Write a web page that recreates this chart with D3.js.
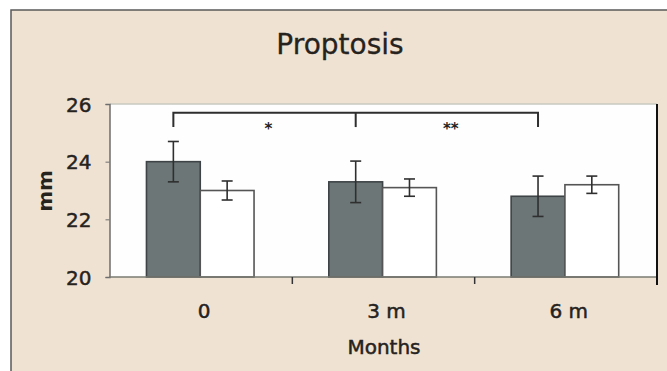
<!DOCTYPE html>
<html>
<head>
<meta charset="utf-8">
<script src="https://cdn.jsdelivr.net/npm/d3@7"></script>
<style>
  html, body { margin: 0; padding: 0; background: #ffffff; }
  svg { display: block; }
  text { font-family: "DejaVu Sans", Verdana, sans-serif; fill: #26221e; }
</style>
</head>
<body>
<svg id="chart" width="667" height="371"></svg>
<script>
// ---- data ----
const categories = ["0", "3 m", "6 m"];
const seriesNames = ["treated", "control"];
const treatedValues = [24.0, 23.3, 22.8];
const treatedErrors = [0.7, 0.72, 0.7];
const controlValues = [23.0, 23.1, 23.2];
const controlErrors = [0.33, 0.3, 0.3];
const yTickValues = [20, 22, 24, 26];
const comparisonFrom = [0, 1];
const comparisonTo = [1, 2];
const comparisonLabels = ["*", "**"];

const title = "Proptosis";
const xTitle = "Months";
const yTitle = "mm";

// ---- layout ----
const W = 667, H = 371;
const plot = { left: 110, right: 657, top: 104, bottom: 277 };
const svg = d3.select("#chart");

// frame
svg.append("rect")
  .attr("x", 11).attr("y", 10)
  .attr("width", W + 10).attr("height", H + 10)
  .attr("fill", "#efe2d2")
  .attr("stroke", "#5a5a5a").attr("stroke-width", 1.5);

const x = d3.scaleBand().domain(categories).range([plot.left, plot.right]).padding(0);
const xs = d3.scaleBand().domain(seriesNames)
  .range([x.bandwidth() * 0.2, x.bandwidth() * 0.79]).padding(0);
const y = d3.scaleLinear().domain([20, 26]).range([plot.bottom, plot.top]);

// plot background
svg.append("rect")
  .attr("x", plot.left).attr("y", plot.top)
  .attr("width", plot.right - plot.left).attr("height", plot.bottom - plot.top)
  .attr("fill", "#fefefe");
svg.append("line")
  .attr("x1", plot.left).attr("x2", plot.right)
  .attr("y1", plot.top).attr("y2", plot.top)
  .attr("stroke", "#c9c9c0").attr("stroke-width", 1.5);

const rows = categories.map((c, i) => ({
  cat: c,
  vals: [
    { s: "treated", v: treatedValues[i], e: treatedErrors[i] },
    { s: "control", v: controlValues[i], e: controlErrors[i] }
  ]
}));

// bars
const g = svg.append("g");
const groups = g.selectAll("g.grp").data(rows).join("g")
  .attr("transform", d => `translate(${x(d.cat)},0)`);
groups.selectAll("rect").data(d => d.vals).join("rect")
  .attr("x", d => xs(d.s))
  .attr("y", d => y(d.v))
  .attr("width", xs.bandwidth())
  .attr("height", d => y(20) - y(d.v))
  .attr("fill", d => d.s === "treated" ? "#6c7677" : "#ffffff")
  .attr("stroke", d => d.s === "treated" ? "#3e4445" : "#555555")
  .attr("stroke-width", 1.6);

// error bars
const eb = groups.selectAll("g.err").data(d => d.vals).join("g")
  .attr("class", "err")
  .attr("stroke", "#2f2f2f").attr("stroke-width", 1.6);
const cx = d => xs(d.s) + xs.bandwidth() / 2;
eb.append("line")
  .attr("x1", cx).attr("x2", cx)
  .attr("y1", d => y(d.v + d.e)).attr("y2", d => y(d.v - d.e));
eb.append("line")
  .attr("x1", d => cx(d) - 5.5).attr("x2", d => cx(d) + 5.5)
  .attr("y1", d => y(d.v + d.e)).attr("y2", d => y(d.v + d.e));
eb.append("line")
  .attr("x1", d => cx(d) - 5.5).attr("x2", d => cx(d) + 5.5)
  .attr("y1", d => y(d.v - d.e)).attr("y2", d => y(d.v - d.e));

// y axis
const yAxis = d3.axisLeft(y).tickValues(yTickValues).tickFormat(d3.format("d"))
  .tickSize(4).tickPadding(14);
const ya = svg.append("g").attr("transform", `translate(${plot.left - 0.5},0)`).call(yAxis);
ya.select(".domain").attr("stroke", "#6e6e6e").attr("stroke-width", 1.5);
ya.selectAll(".tick line").attr("stroke", "#6e6e6e");
ya.selectAll(".tick text")
  .attr("font-size", 20)
  .attr("font-family", "DejaVu Sans").attr("fill", "#2a2520")
  .attr("stroke", "#2a2520").attr("stroke-width", 0.5)
  .attr("dy", "0.36em");

// x axis (boundary ticks)
svg.append("line")
  .attr("x1", plot.left - 1).attr("x2", plot.right)
  .attr("y1", plot.bottom).attr("y2", plot.bottom)
  .attr("stroke", "#7a7a72").attr("stroke-width", 1.5);
const boundaries = categories.slice(1).map(c => x(c));
svg.selectAll("line.xtick").data(boundaries).join("line")
  .attr("x1", d => d).attr("x2", d => d)
  .attr("y1", plot.bottom).attr("y2", plot.bottom + 7)
  .attr("stroke", "#333").attr("stroke-width", 1.5);
// right closing line
svg.append("line")
  .attr("x1", plot.right).attr("x2", plot.right)
  .attr("y1", plot.top).attr("y2", plot.bottom + 8)
  .attr("stroke", "#111").attr("stroke-width", 2);

// category labels
svg.selectAll("text.cat").data(categories).join("text")
  .attr("x", d => x(d) + x.bandwidth() / 2 + 3)
  .attr("y", 318)
  .attr("text-anchor", "middle")
  .attr("font-size", 20)
  .attr("stroke", "#26221e").attr("stroke-width", 0.5)
  .text(d => d);

// axis titles
svg.append("text")
  .attr("x", 384).attr("y", 354)
  .attr("text-anchor", "middle")
  .attr("font-size", 20)
  .attr("stroke", "#26221e").attr("stroke-width", 0.5)
  .text(xTitle);
svg.append("text")
  .attr("transform", "translate(52,191) rotate(-90)")
  .attr("text-anchor", "middle")
  .attr("font-size", 20).attr("font-weight", "bold")
  .text(yTitle);

// title
svg.append("text")
  .attr("x", 340).attr("y", 54)
  .attr("text-anchor", "middle")
  .attr("font-size", 28)
  .attr("stroke", "#26221e").attr("stroke-width", 0.3)
  .text(title);

// significance brackets
const darkCenter = i => x(categories[i]) + xs("treated") + xs.bandwidth() / 2;
const brTop = y(25.7), brLeg = y(25.2);
const br = svg.append("g").attr("stroke", "#2e2e2e").attr("stroke-width", 2).attr("fill", "none");
br.append("path")
  .attr("d", `M${darkCenter(0)},${brLeg}V${brTop}H${darkCenter(2)}V${brLeg}`);
br.append("line")
  .attr("x1", darkCenter(1)).attr("x2", darkCenter(1))
  .attr("y1", brTop).attr("y2", brLeg);
svg.selectAll("text.sig").data(comparisonLabels).join("text")
  .attr("x", (d, i) => (darkCenter(comparisonFrom[i]) + darkCenter(comparisonTo[i])) / 2 + 4)
  .attr("y", 134)
  .attr("text-anchor", "middle")
  .attr("font-size", 15).attr("font-weight", "bold")
  .text(d => d);
</script>
</body>
</html>
